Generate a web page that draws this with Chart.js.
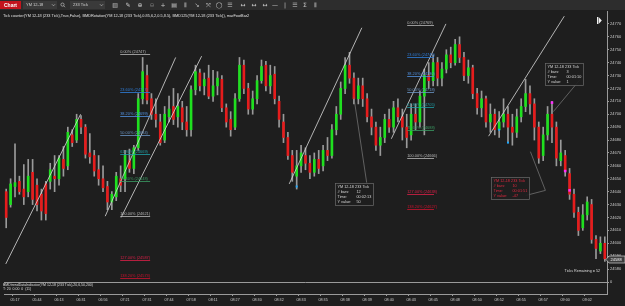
<!DOCTYPE html>
<html>
<head>
<meta charset="utf-8">
<script src="https://cdn.jsdelivr.net/npm/chart.js@4.4.1/dist/chart.umd.min.js"></script>
<style>
  html, body { margin: 0; padding: 0; background: #1e1e1e; overflow: hidden; }
  canvas { display: block; }
</style>
</head>
<body>
<canvas id="chart" width="625" height="306"></canvas>
<script>
// ---- data ----
const timeLabels = ['05:17', '05:44', '06:13', '06:31', '06:56', '07:21', '07:31', '07:44', '07:58', '08:11',
  '08:27', '08:30', '08:32', '08:33', '08:35', '08:38', '08:39', '08:40', '08:43', '08:45',
  '08:48', '08:50', '08:52', '08:55', '08:57', '09:00', '09:02'];
const firstLabelBar = 2;
const labelEvery = 5;

const opens = [
  24640, 24630, 24644, 24648, 24642, 24640, 24655, 24645, 24638, 24646,
  24648, 24652, 24650, 24665, 24660, 24684, 24680, 24696, 24690, 24670,
  24668, 24657, 24650, 24644, 24632, 24636, 24650, 24650, 24664, 24658,
  24674, 24712, 24730, 24712, 24700, 24694, 24680, 24698, 24706, 24698,
  24705, 24694, 24688, 24719, 24732, 24722, 24728, 24714, 24722, 24727,
  24705, 24696, 24690, 24712, 24738, 24720, 24704, 24712, 24726, 24738,
  24722, 24731, 24710, 24694, 24682, 24668, 24652, 24660, 24668, 24662,
  24655, 24665, 24660, 24672, 24668, 24688, 24700, 24720, 24738, 24728,
  24712, 24722, 24712, 24698, 24690, 24676, 24682, 24696, 24690, 24705,
  24698, 24690, 24684, 24700, 24694, 24714, 24730, 24726, 24740, 24728,
  24735, 24746, 24740, 24754, 24744, 24730, 24736, 24716, 24705, 24712,
  24694, 24700, 24688, 24694, 24700, 24690, 24686, 24698, 24706, 24716,
  24708, 24690, 24668, 24684, 24700, 24690, 24664, 24668, 24654, 24638,
  24624, 24612, 24622, 24630, 24603, 24594, 24600];
const highs = [
  24642, 24650, 24677, 24652, 24661, 24665, 24665, 24650, 24642, 24648,
  24662, 24668, 24668, 24675, 24690, 24688, 24700, 24699, 24692, 24685,
  24672, 24668, 24660, 24648, 24640, 24655, 24660, 24672, 24673, 24676,
  24716, 24744, 24738, 24716, 24712, 24700, 24706, 24714, 24720, 24716,
  24710, 24706, 24722, 24738, 24735, 24732, 24738, 24734, 24733, 24730,
  24708, 24702, 24716, 24744, 24742, 24724, 24718, 24730, 24742, 24741,
  24738, 24737, 24714, 24700, 24686, 24672, 24672, 24676, 24674, 24668,
  24670, 24672, 24676, 24682, 24692, 24706, 24725, 24744, 24748, 24732,
  24728, 24728, 24716, 24704, 24694, 24690, 24700, 24704, 24710, 24712,
  24704, 24700, 24708, 24708, 24718, 24735, 24740, 24746, 24744, 24740,
  24750, 24752, 24758, 24760, 24748, 24742, 24738, 24720, 24718, 24714,
  24708, 24704, 24702, 24712, 24706, 24700, 24704, 24712, 24727, 24722,
  24712, 24694, 24690, 24706, 24710, 24694, 24680, 24672, 24658, 24642,
  24628, 24630, 24636, 24634, 24606, 24605, 24605];
const lows = [
  24612, 24628, 24636, 24638, 24630, 24636, 24630, 24625, 24618, 24618,
  24642, 24640, 24645, 24652, 24657, 24675, 24678, 24685, 24666, 24662,
  24652, 24645, 24640, 24626, 24626, 24633, 24640, 24640, 24655, 24654,
  24672, 24708, 24708, 24696, 24690, 24676, 24678, 24694, 24692, 24690,
  24688, 24683, 24683, 24715, 24718, 24715, 24712, 24710, 24715, 24702,
  24690, 24683, 24688, 24710, 24716, 24700, 24700, 24708, 24724, 24718,
  24716, 24708, 24690, 24678, 24665, 24648, 24642, 24655, 24657, 24650,
  24652, 24654, 24656, 24664, 24666, 24684, 24696, 24716, 24724, 24708,
  24708, 24706, 24694, 24684, 24672, 24668, 24678, 24686, 24686, 24694,
  24680, 24674, 24680, 24688, 24690, 24684, 24720, 24722, 24722, 24722,
  24732, 24736, 24738, 24740, 24726, 24724, 24712, 24700, 24698, 24690,
  24686, 24684, 24682, 24690, 24678, 24676, 24682, 24694, 24702, 24700,
  24680, 24662, 24664, 24680, 24678, 24660, 24660, 24652, 24634, 24620,
  24606, 24610, 24618, 24600, 24588, 24592, 24586];
const closes = [
  24620, 24646, 24647, 24640, 24636, 24652, 24634, 24630, 24625, 24623,
  24657, 24650, 24666, 24658, 24686, 24678, 24696, 24690, 24669, 24667,
  24656, 24650, 24643, 24632, 24638, 24652, 24645, 24668, 24658, 24674,
  24712, 24733, 24711, 24700, 24696, 24678, 24700, 24704, 24696, 24706,
  24694, 24688, 24719, 24733, 24722, 24727, 24714, 24722, 24728, 24705,
  24694, 24688, 24712, 24738, 24720, 24704, 24712, 24726, 24737, 24722,
  24730, 24712, 24696, 24682, 24668, 24655, 24660, 24670, 24662, 24655,
  24665, 24658, 24672, 24668, 24688, 24700, 24720, 24738, 24728, 24712,
  24722, 24712, 24698, 24690, 24676, 24682, 24696, 24690, 24705, 24698,
  24690, 24682, 24700, 24694, 24714, 24730, 24726, 24740, 24728, 24735,
  24746, 24740, 24754, 24744, 24730, 24736, 24716, 24705, 24712, 24694,
  24700, 24688, 24694, 24700, 24690, 24686, 24698, 24706, 24716, 24708,
  24690, 24666, 24684, 24700, 24690, 24666, 24670, 24656, 24638, 24624,
  24610, 24622, 24632, 24603, 24596, 24600, 24588];

const priceMin = 24570;
const priceMax = 24780;
const tickFirst = 24580;
const tickLast = 24770;

// signal dots
const cyanBars = [66, 112, 114];
const cyanPrices = [24644, 24688, 24678];
const magentaBars = [124, 127, 128];
const magentaPrices = [24709, 24656, 24641];

// drawing tools, in [bar, price]
const trendLines = [
  [[-0.1, 24584], [16.9, 24700]],
  [[22.5, 24621], [38.5, 24744]],
  [[26.1, 24620], [44.4, 24745]],
  [[64.3, 24646], [80.8, 24767]],
  [[87.5, 24681], [99.9, 24770]],
  [[109.6, 24683], [126.8, 24776]]
];
const fibRatios = [0, 0.236, 0.382, 0.5, 0.618, 0.786, 1, 1.27, 1.382];
const fibHighs = [24747, 24769];
const fibLows = [24621, 24666];
const fibStartBars = [25.9, 91.1];
const fibEndBars = [32.7, 97.2];

const measureAnchors = [[74.7, 24647], [122.5, 24740], [110.1, 24651]];
const measureBars = [12, 3, 10];
const measureTimes = ['00:02:13', '00:01:10', '00:01:51'];
const measureValues = [50, 1, -47];
const measureLeaders = [
  [[81.9, 24647], [79.0, 24713]],
  [[130.4, 24727], [124.3, 24702]],
  [[118.0, 24637], [122.5, 24641], [119.1, 24671]]
];

// ---- styles ----
const BG = '#1e1e1e';
const UP = '#1fe01f';
const DOWN = '#e61c1c';
const WICK = '#9a9a9a';
const AXIS = '#9a9a9a';
const TEXT = '#cdcdcd';
const fibColors = ['#b8b8b8', '#2f7fdc', '#5090e0', '#6a94c4', '#1e9ea6', '#3a9a62', '#b8b8b8', '#dc1f48', '#c8132e'];
const measureColors = ['#d6d6d6', '#d6d6d6', '#e0283f'];
const font = (size, weight) => `${weight || ''} ${size}px "Liberation Sans", Arial, sans-serif`;

const barLabels = opens.map((_, i) => {
  const k = (i - firstLabelBar) / labelEvery;
  return i >= firstLabelBar && Number.isInteger(k) && k < timeLabels.length ? timeLabels[k] : '';
});

const marks = (bars, prices) => {
  const out = opens.map(() => null);
  bars.forEach((b, k) => { out[b] = prices[k]; });
  return out;
};

function drawToolbar(c, w) {
  c.fillStyle = '#2d2d2d';
  c.fillRect(0, 0, w, 10);
  c.fillStyle = '#c3141d';
  c.fillRect(0, 1, 21, 8);
  c.fillStyle = '#ffffff';
  c.font = font(5, 'bold');
  c.textAlign = 'center';
  c.textBaseline = 'middle';
  c.fillText('Chart', 10.5, 5.3);

  c.fillStyle = '#3a3a3a';
  c.fillRect(23, 1, 34, 8);
  c.fillRect(70, 1, 35, 8);
  c.fillStyle = '#d2d2d2';
  c.font = font(4);
  c.textAlign = 'left';
  c.fillText('YM 12-18', 26, 5.3);
  c.fillText('233 Tick', 73, 5.3);
  c.strokeStyle = '#bdbdbd';
  c.lineWidth = 0.7;
  [53.5, 101.5].forEach(x => {
    c.beginPath(); c.moveTo(x - 1.5, 4.3); c.lineTo(x, 5.8); c.lineTo(x + 1.5, 4.3); c.stroke();
  });
  c.beginPath(); c.arc(62.5, 4.6, 1.6, 0, Math.PI * 2); c.stroke();
  c.beginPath(); c.moveTo(63.7, 5.8); c.lineTo(65, 7.2); c.stroke();

  const icons = [[115, '▥'], [128, '✎'], [140, '⊕'], [152, '⊖'], [163, '+'], [174, '▤'], [185, '⦀'],
    [197, '↘'], [208, '⤧'], [219, '◯'], [230, '☰'], [243, '↔'], [254, '↔'], [265, '↔'], [275, '—'],
    [285, '|'], [295, '☰'], [305, 'Ʃ'], [315, '⦀']];
  c.font = '6px "DejaVu Sans", sans-serif';
  c.textAlign = 'center';
  icons.forEach(([x, g], k) => {
    c.fillStyle = k === 3 ? '#777777' : '#c9c9c9';
    c.fillText(g, x, 5.3);
  });
}

const overlay = {
  id: 'overlay',
  beforeDraw(chart) {
    const c = chart.ctx;
    c.save();
    c.fillStyle = BG;
    c.fillRect(0, 0, chart.width, chart.height);
    c.restore();
  },
  afterDatasetsDraw(chart) {
    const c = chart.ctx;
    const xs = chart.scales.x, ys = chart.scales.y, area = chart.chartArea;
    const px = i => xs.getPixelForValue(i);
    const py = v => ys.getPixelForValue(v);
    c.save();
    c.beginPath();
    c.rect(area.left, area.top, area.right - area.left, ys.bottom - area.top);
    c.clip();

    // trend lines
    c.strokeStyle = '#d9d9d9';
    c.lineWidth = 0.8;
    trendLines.forEach(([a, b]) => {
      c.beginPath();
      c.moveTo(px(a[0]), py(a[1]));
      c.lineTo(px(b[0]), py(b[1]));
      c.stroke();
    });

    // fibonacci retracements
    fibHighs.forEach((hi, k) => {
      const lo = fibLows[k];
      const x1 = px(fibStartBars[k]), x2 = px(fibEndBars[k]);
      fibRatios.forEach((r, j) => {
        const v = hi - r * (hi - lo);
        const y = Math.round(py(v)) + 0.5;
        c.strokeStyle = fibColors[j];
        c.lineWidth = 0.8;
        c.beginPath(); c.moveTo(x1, y); c.lineTo(x2, y); c.stroke();
        c.fillStyle = fibColors[j];
        c.font = font(3.9);
        c.textAlign = 'left';
        c.textBaseline = 'bottom';
        c.fillText(`${(r * 100).toFixed(2)}% (${Math.round(v)})`, x1, y - 0.4);
      });
    });

    // measure boxes
    measureAnchors.forEach((a, k) => {
      const pts = measureLeaders[k];
      c.strokeStyle = '#7c7c7c';
      c.lineWidth = 0.7;
      c.beginPath();
      pts.forEach((p, n) => n ? c.lineTo(px(p[0]), py(p[1])) : c.moveTo(px(p[0]), py(p[1])));
      c.stroke();
      const x = Math.round(px(a[0])) + 0.5, y = Math.round(py(a[1])) + 0.5, w = 38, h = 22;
      c.fillStyle = 'rgba(30,30,30,0.92)';
      c.fillRect(x, y, w, h);
      c.strokeStyle = '#6c6c6c';
      c.strokeRect(x, y, w, h);
      c.fillStyle = measureColors[k];
      c.font = font(3.8);
      c.textAlign = 'left';
      c.textBaseline = 'middle';
      const rows = [['YM 12-18 233 Tick', ''], ['# bars:', String(measureBars[k])],
        ['Time:', measureTimes[k]], ['Y value:', String(measureValues[k])]];
      rows.forEach((r, n) => {
        c.fillText(r[0], x + 2, y + 3.3 + n * 5.1);
        if (r[1]) c.fillText(r[1], x + 21, y + 3.3 + n * 5.1);
      });
    });
    c.restore();
  },
  afterDraw(chart) {
    const c = chart.ctx;
    const area = chart.chartArea, ys = chart.scales.y, y2 = chart.scales.y2;
    c.save();
    drawToolbar(c, chart.width);

    // indicator caption
    c.fillStyle = '#e2e2e2';
    c.font = font(3.85);
    c.textAlign = 'left';
    c.textBaseline = 'middle';
    c.fillText('Tick counter(YM 12-18 (233 Tick),True,False), BMDRotation(YM 12-18 (233 Tick),0.85,6,2,0.5,8.5), BMD125(YM 12-18 (233 Tick)), marFootBar2', 3, 15.5);

    // skip-to-end button
    c.fillStyle = '#f0f0f0';
    c.fillRect(597, 17, 1.2, 7);
    c.beginPath(); c.moveTo(598.6, 17); c.lineTo(601.8, 20.5); c.lineTo(598.6, 24); c.closePath(); c.fill();

    // ticks remaining
    c.fillStyle = '#dcdcdc';
    c.font = font(3.7);
    c.textAlign = 'right';
    c.fillText('Ticks Remaining = 52', 600, 270.5);

    // lower panel
    c.strokeStyle = AXIS;
    c.lineWidth = 1;
    c.beginPath(); c.moveTo(area.left, Math.round(y2.top) + 0.5); c.lineTo(area.right, Math.round(y2.top) + 0.5); c.stroke();
    c.fillStyle = '#dedede';
    c.font = font(3.5);
    c.textAlign = 'left';
    c.fillText('BMDtrendDataIndicator(YM 12-18 (233 Tick),20,6,50,200)', 3, y2.top + 3.3);
    c.fillText('T: 20  0.00  0  (11)', 3, y2.top + 6.6);

    // last price marker
    const last = closes[closes.length - 1];
    const yl = Math.round(ys.getPixelForValue(last)) + 0.5;
    const xl = area.right + 1;
    c.fillStyle = '#3c3c3c';
    c.strokeStyle = '#cfcfcf';
    c.lineWidth = 0.7;
    c.beginPath();
    c.moveTo(xl - 2, yl); c.lineTo(xl + 1, yl - 3.5); c.lineTo(xl + 17, yl - 3.5);
    c.lineTo(xl + 17, yl + 3.5); c.lineTo(xl + 1, yl + 3.5); c.closePath();
    c.fill(); c.stroke();
    c.fillStyle = '#ffffff';
    c.font = font(4);
    c.textAlign = 'left';
    c.fillText(String(last), xl + 2.5, yl + 0.3);
    c.restore();
  }
};

new Chart(document.getElementById('chart'), {
  type: 'bar',
  data: {
    labels: barLabels,
    datasets: [
      {
        type: 'line', label: 'cyan', data: marks(cyanBars, cyanPrices), showLine: false,
        pointStyle: 'rect', pointRadius: 1.4, pointBackgroundColor: '#1aa8ff', pointBorderWidth: 0,
        yAxisID: 'y', order: 0
      },
      {
        type: 'line', label: 'magenta', data: marks(magentaBars, magentaPrices), showLine: false,
        pointStyle: 'rect', pointRadius: 1.8, pointBackgroundColor: '#ff2cff', pointBorderWidth: 0,
        yAxisID: 'y', order: 0
      },
      {
        label: 'body', data: opens.map((o, i) => [o, closes[i]]),
        backgroundColor: opens.map((o, i) => closes[i] >= o ? UP : DOWN),
        barThickness: 2, grouped: false, yAxisID: 'y', order: 1
      },
      {
        label: 'wick', data: lows.map((l, i) => [l, highs[i]]),
        backgroundColor: WICK, barThickness: 1, grouped: false, yAxisID: 'y', order: 2
      }
    ]
  },
  options: {
    responsive: false,
    animation: false,
    events: [],
    layout: { padding: { top: 11, left: 0, right: 0, bottom: 0 } },
    plugins: { legend: { display: false }, tooltip: { enabled: false } },
    scales: {
      x: {
        type: 'category',
        offset: true,
        grid: {
          drawOnChartArea: false, tickLength: 2,
          color: ctx => barLabels[ctx.index] ? AXIS : 'rgba(0,0,0,0)'
        },
        border: { color: AXIS },
        ticks: {
          autoSkip: false, maxRotation: 0, minRotation: 0, padding: 2,
          font: { size: 3.7, family: '"Liberation Sans", Arial, sans-serif' }, color: TEXT,
          callback: (v, i) => barLabels[i]
        },
        afterFit: s => { s.height = 12; }
      },
      y: {
        type: 'linear', position: 'right', stack: 'panes', stackWeight: 271, weight: 0,
        min: priceMin, max: priceMax,
        grid: {
          drawOnChartArea: false, tickLength: 2,
          color: ctx => ctx.tick && ctx.tick.value >= tickFirst && ctx.tick.value <= tickLast ? AXIS : 'rgba(0,0,0,0)'
        },
        border: { color: AXIS },
        ticks: {
          stepSize: 10, autoSkip: false, padding: 1, color: TEXT,
          font: { size: 4, family: '"Liberation Sans", Arial, sans-serif' },
          callback: v => (v >= tickFirst && v <= tickLast ? String(v) : '')
        },
        afterFit: s => { s.width = 18; }
      },
      y2: {
        type: 'linear', position: 'right', stack: 'panes', stackWeight: 12, weight: 1,
        min: -1, max: 0,
        grid: { drawOnChartArea: false, tickLength: 2, color: ctx => ctx.tick && ctx.tick.value === 0 ? AXIS : 'rgba(0,0,0,0)' },
        border: { color: AXIS },
        ticks: {
          stepSize: 1, autoSkip: false, padding: 1, color: TEXT,
          font: { size: 4, family: '"Liberation Sans", Arial, sans-serif' },
          callback: v => (v === 0 ? '0' : '')
        },
        afterFit: s => { s.width = 18; }
      }
    }
  },
  plugins: [overlay]
});
</script>
</body>
</html>
